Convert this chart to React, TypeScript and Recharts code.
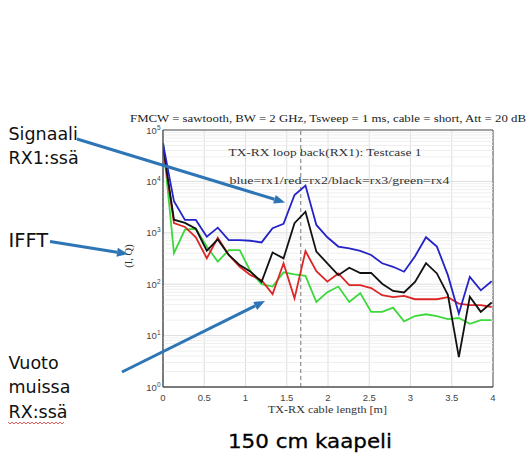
import React from "react";
import {
  LineChart,
  Line,
  XAxis,
  YAxis,
  CartesianGrid,
  ReferenceLine,
  ReferenceArea,
} from "recharts";

// cable length [m]
const distanceM = [
  0, 0.133, 0.266, 0.398, 0.531, 0.664, 0.797, 0.93, 1.062, 1.195, 1.328, 1.461,
  1.594, 1.727, 1.859, 1.992, 2.125, 2.258, 2.391, 2.523, 2.656, 2.789, 2.922,
  3.055, 3.188, 3.32, 3.453, 3.586, 3.719, 3.852, 3.984,
];
// blue = rx1
const rx1 = [
  55000, 4100, 1780, 1780, 840, 1260, 720, 720, 700, 650, 1230, 1500, 5450, 8300,
  1420, 820, 540, 500, 445, 370, 255, 218, 175, 350, 820, 540, 150, 27, 139, 76, 114,
];
// red = rx2
const rx2 = [
  45000, 1550, 1300, 820, 320, 800, 370, 218, 150, 120, 64, 255, 53, 440, 180, 112,
  162, 96, 96, 84, 61, 56, 59, 51, 51, 51, 56, 42, 39, 39, 36,
];
// black = rx3
const rx3 = [
  50000, 1800, 1560, 1200, 450, 745, 370, 235, 175, 111, 415, 318, 1540, 2570, 430,
  255, 150, 209, 165, 166, 102, 74, 69, 111, 256, 162, 62, 3.8, 57, 29, 44,
];
// green = rx4
const rx4 = [
  60000, 400, 1150, 1200, 540, 275, 460, 460, 175, 100, 90, 170, 155, 145, 45, 70,
  90, 45, 67, 29, 29, 35, 19, 24, 26, 24, 21, 22, 17, 20, 20,
];

const xTicks = [0, 0.5, 1, 1.5, 2, 2.5, 3, 3.5, 4];
const yTicks = [1, 10, 100, 1000, 10000, 100000];
const markerX = 1.67;

const titleText =
  "FMCW = sawtooth, BW = 2 GHz, Tsweep = 1 ms, cable = short, Att = 20 dB";
const innerText1 = "TX-RX loop back(RX1):  Testcase 1";
const innerText2 = "blue=rx1/red=rx2/black=rx3/green=rx4";
const xLabel = "TX-RX cable length [m]";
const yLabel = "(I, Q)";

const minorY: number[] = [];
for (let d = 0; d < 5; d++) {
  for (let m = 2; m <= 9; m++) minorY.push(m * Math.pow(10, d));
}

const data = distanceM.map((d, i) => ({
  d,
  rx1: rx1[i],
  rx2: rx2[i],
  rx3: rx3[i],
  rx4: rx4[i],
}));

const W = 528;
const H = 454;
const SANS = "Liberation Sans, Arial, sans-serif";
const SERIF = "Liberation Serif, Times New Roman, serif";
const ANN = "DejaVu Sans, Verdana, sans-serif";
const ARROW = "#2e75b6";

const XTick = (props: any) => {
  const { x, y, payload } = props;
  return (
    <text x={x} y={y + 14} textAnchor="middle" fontSize={9.5} fontFamily={SANS} fill="#444">
      {String(payload.value)}
    </text>
  );
};

const YTick = (props: any) => {
  const { x, y, payload } = props;
  const exp = Math.round(Math.log10(payload.value));
  return (
    <text x={x - 2.5} y={y + 3.6} textAnchor="end" fontSize={9.5} fontFamily={SANS} fill="#444">
      <tspan>10</tspan>
      <tspan dy={-4} fontSize={6.5}>
        {String(exp)}
      </tspan>
    </text>
  );
};

const Arrow = ({ x1, y1, x2, y2 }: { x1: number; y1: number; x2: number; y2: number }) => {
  const ang = Math.atan2(y2 - y1, x2 - x1);
  const len = 11;
  const half = 4.5;
  const bx = x2 - len * Math.cos(ang);
  const by = y2 - len * Math.sin(ang);
  const px = -Math.sin(ang) * half;
  const py = Math.cos(ang) * half;
  return (
    <g>
      <line x1={x1} y1={y1} x2={bx} y2={by} stroke={ARROW} strokeWidth={3} />
      <polygon
        points={`${x2},${y2} ${bx + px},${by + py} ${bx - px},${by - py}`}
        fill={ARROW}
      />
    </g>
  );
};

export default function App() {
  return (
    <div style={{ position: "absolute", left: 0, top: 0, width: W, height: H, background: "#fff" }}>
      <LineChart
        width={W}
        height={H}
        data={data}
        margin={{ top: 130, right: 35, bottom: 37, left: 123 }}
      >
        <CartesianGrid stroke="#dedede" vertical horizontal />
        {minorY.map((v) => (
          <ReferenceLine key={"m" + v} y={v} stroke="#efefef" strokeWidth={1} />
        ))}
        <XAxis
          dataKey="d"
          type="number"
          domain={[0, 4]}
          ticks={xTicks}
          height={30}
          tickSize={0}
          tickMargin={0}
          tickLine={false}
          axisLine={{ stroke: "#555" }}
          tick={<XTick />}
          allowDataOverflow
        />
        <YAxis
          type="number"
          scale="log"
          domain={[1, 100000]}
          ticks={yTicks}
          width={40}
          tickSize={0}
          tickMargin={0}
          tickLine={false}
          axisLine={{ stroke: "#555" }}
          tick={<YTick />}
          allowDataOverflow
        />
        <ReferenceArea x1={0} x2={4} y1={1} y2={100000} fill="none" stroke="#555" strokeWidth={1} />
        <ReferenceLine x={markerX} stroke="#777" strokeDasharray="4 3" strokeWidth={1} />
        <Line type="linear" dataKey="rx4" stroke="#3cd83c" strokeWidth={1.8} dot={false} isAnimationActive={false} />
        <Line type="linear" dataKey="rx2" stroke="#dd2626" strokeWidth={1.8} dot={false} isAnimationActive={false} />
        <Line type="linear" dataKey="rx3" stroke="#111111" strokeWidth={1.8} dot={false} isAnimationActive={false} />
        <Line type="linear" dataKey="rx1" stroke="#2323c8" strokeWidth={1.8} dot={false} isAnimationActive={false} />
      </LineChart>
      <svg
        width={W}
        height={H}
        style={{ position: "absolute", left: 0, top: 0, pointerEvents: "none" }}
      >
        <text x={328} y={122} textAnchor="middle" fontFamily={SERIF} fontSize={11} fill="#222" textLength={396} lengthAdjust="spacingAndGlyphs">
          {titleText}
        </text>
        <text x={228.5} y={156} fontFamily={SERIF} fontSize={10.5} fill="#333" textLength={193} lengthAdjust="spacingAndGlyphs">
          {innerText1}
        </text>
        <text x={229.5} y={183.5} fontFamily={SERIF} fontSize={10.5} fill="#333" textLength={220} lengthAdjust="spacingAndGlyphs">
          {innerText2}
        </text>
        <text x={327.5} y={412.5} textAnchor="middle" fontFamily={SERIF} fontSize={10.5} fill="#333" textLength={119} lengthAdjust="spacingAndGlyphs">
          {xLabel}
        </text>
        <text transform="translate(131.5,256) rotate(-90)" textAnchor="middle" fontFamily={SERIF} fontSize={10.5} fill="#333">
          {yLabel}
        </text>

        <text x={8.5} y={139.5} fontFamily={ANN} fontSize={17.5} fill="#111">Signaali</text>
        <text x={8.5} y={163.5} fontFamily={ANN} fontSize={17.5} fill="#111">RX1:ssä</text>
        <text x={8.5} y={247} fontFamily={ANN} fontSize={19.5} fill="#111">IFFT</text>
        <text x={8.5} y={369} fontFamily={ANN} fontSize={17.5} fill="#111">Vuoto</text>
        <text x={8.5} y={393} fontFamily={ANN} fontSize={17.5} fill="#111">muissa</text>
        <text x={8.5} y={418} fontFamily={ANN} fontSize={17.5} fill="#111">RX:ssä</text>
        <polyline
          points="8,422 10,424 12,422 14,424 16,422 18,424 20,422 22,424 24,422 26,424 28,422 30,424 32,422 34,424 36,422 38,424 40,422 42,424 44,422 46,424 48,422 50,424 52,422 54,424 56,422 58,424 60,422 62,424 64,422"
          fill="none"
          stroke="#d33"
          strokeWidth={0.8}
        />
        <text x={310} y={448} textAnchor="middle" fontFamily={ANN} fontSize={19.5} fill="#000" stroke="#000" strokeWidth={0.3} textLength={164} lengthAdjust="spacingAndGlyphs">
          150 cm kaapeli
        </text>

        <Arrow x1={77} y1={139} x2={285} y2={202.5} />
        <Arrow x1={50} y1={241.5} x2={128} y2={254} />
        <Arrow x1={122} y1={372} x2={265} y2={301} />
      </svg>
    </div>
  );
}
